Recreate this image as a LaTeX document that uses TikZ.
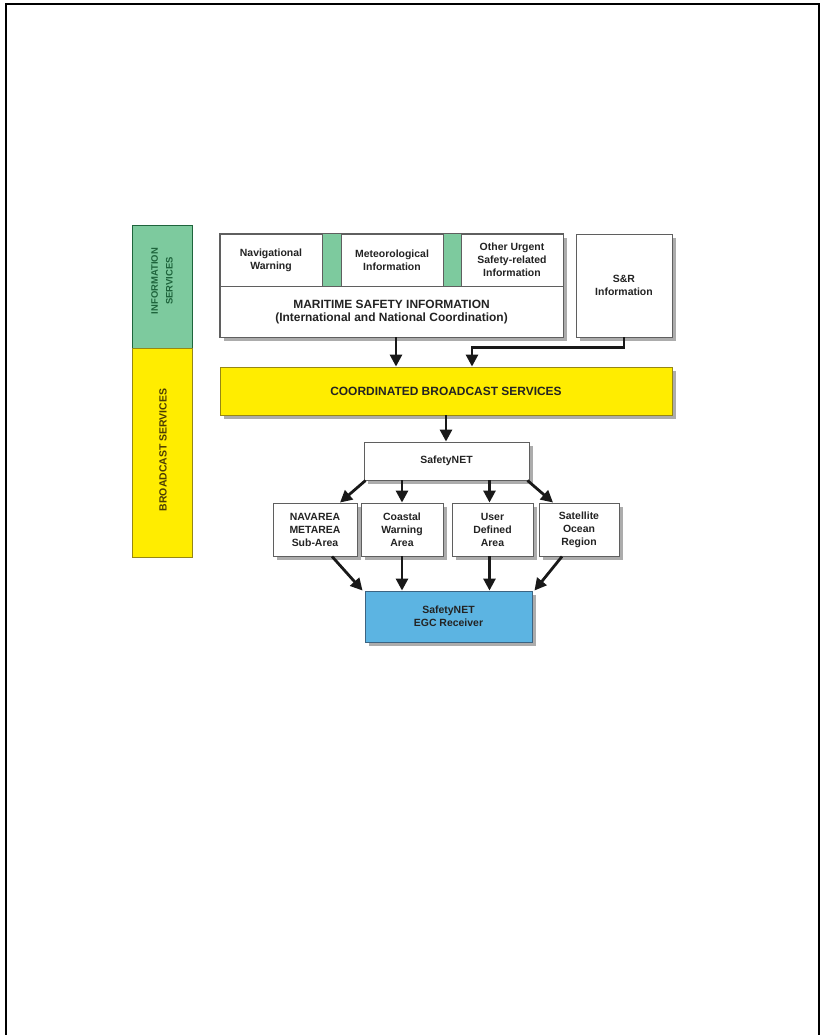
\documentclass[tikz,border=0pt]{standalone}
\usepackage{fontspec}
\setmainfont{Liberation Sans}
\usetikzlibrary{arrows.meta,shadows,calc}
\definecolor{infogreen}{RGB}{125,202,158}
\definecolor{infogreendk}{RGB}{30,100,60}
\definecolor{bcyellow}{RGB}{255,237,0}
\definecolor{bcyellowdk}{RGB}{150,135,20}
\definecolor{bctext}{RGB}{75,60,5}
\definecolor{egcblue}{RGB}{92,180,226}
\definecolor{egcbluedk}{RGB}{60,100,130}
\definecolor{boxline}{RGB}{95,95,95}
\definecolor{shadowgray}{RGB}{172,172,172}
\definecolor{txt}{RGB}{35,35,35}
\begin{document}
\begin{tikzpicture}[x=1bp,y=-1bp,
  shad/.style={drop shadow={shadow xshift=4bp, shadow yshift=-4bp, fill=shadowgray, opacity=1}},
  box/.style={shad, draw=boxline, line width=0.9bp, fill=white, inner sep=0pt, align=center,
    text=txt, font=\bfseries\fontsize{10.5}{13}\selectfont},
  lbl/.style={inner sep=0pt, align=center, text=txt, font=\bfseries\fontsize{10.5}{13}\selectfont},
  biglbl/.style={inner sep=0pt, align=center, text=txt, font=\bfseries\fontsize{12}{13}\selectfont},
  sidebox/.style={line width=0.9bp, inner sep=0pt, minimum width=60bp},
  arr/.style={line width=2.8bp, draw=black!90, -{Triangle[width=12bp,length=12bp]}}
]
\useasboundingbox (0,0) rectangle (822,1035);
% page frame
\draw[line width=2bp] (6,1035) -- (6,3.8) -- (819,3.8) -- (819,1035);

% side column
\node[sidebox, draw=infogreendk, fill=infogreen, minimum height=123bp] (info) at (162,286.5) {};
\node[sidebox, draw=bcyellowdk, fill=bcyellow, minimum height=209bp] (bcast) at (162,452.5) {};
\node[rotate=90, inner sep=0pt, align=center, text=infogreendk, font=\bfseries\fontsize{9.5}{15}\selectfont] (infolbl) at (162,281) {INFORMATION\\SERVICES};
\node[rotate=90, inner sep=0pt, align=center, text=bctext, font=\bfseries\fontsize{10.5}{13}\selectfont] (bcastlbl) at (163,450) {BROADCAST SERVICES};

% maritime safety information block
\node[box, minimum width=343bp, minimum height=103bp] (msi) at (391.5,285.5) {};
\fill[infogreen] (322,234) rectangle (341,286);
\fill[infogreen] (443,234) rectangle (461,286);
\draw[boxline, line width=0.9bp] (322,234) -- (322,286) (341,234) -- (341,286)
  (443,234) -- (443,286) (461,234) -- (461,286);
\draw[boxline, line width=0.9bp] (msi.west |- 0,286) -- (msi.east |- 0,286);
\draw[boxline, line width=0.9bp] (msi.north west) rectangle (msi.south east);
\node[lbl] (nav) at (271,260) {Navigational\\Warning};
\node[lbl] (met) at (392,260) {Meteorological\\Information};
\node[lbl] (oth) at (512,260) {Other Urgent\\Safety-related\\Information};
\node[biglbl] (msitxt) at (391.5,312.5) {MARITIME SAFETY INFORMATION\\(International and National Coordination)};

\node[box, minimum width=96bp, minimum height=103bp] (sar) at (624,285.5) {S\&R\\Information};

\node[box, fill=bcyellow, draw=bcyellowdk, minimum width=452bp, minimum height=48bp,
  font=\bfseries\fontsize{12}{13}\selectfont] (cbs) at (446,391) {COORDINATED BROADCAST SERVICES};

\node[box, minimum width=165bp, minimum height=38bp] (snet) at (446.5,461) {SafetyNET};

\node[box, minimum width=84bp, minimum height=53bp] (navarea) at (315,529.5) {NAVAREA\\METAREA\\Sub-Area};
\node[box, minimum width=82bp, minimum height=53bp] (coastal) at (402,529.5) {Coastal\\Warning\\Area};
\node[box, minimum width=81bp, minimum height=53bp] (user) at (492.5,529.5) {User\\Defined\\Area};
\node[box, minimum width=80bp, minimum height=53bp] (sat) at (579,529.5) {Satellite\\Ocean\\Region};

\node[box, fill=egcblue, draw=egcbluedk, minimum width=167bp, minimum height=51bp] (egc) at (448.5,616.5) {SafetyNET\\EGC Receiver};

% connectors
\draw[arr] ([xshift=4.5bp]msi.south) -- ([xshift=4.5bp]msi.south |- cbs.north);
\draw[arr] (sar.south) -- ++(0,10) -| ([xshift=26bp]cbs.north);
\draw[arr] (cbs.south) -- (cbs.south |- snet.north);
\draw[arr] ([xshift=2bp]snet.south west) -- ([xshift=25bp]navarea.north);
\draw[arr] (snet.south -| coastal.north) -- (coastal.north);
\draw[arr] ([xshift=-3bp]snet.south -| user.north) -- ([xshift=-3bp]user.north);
\draw[arr] ([xshift=-2bp]snet.south east) -- ([xshift=-26bp]sat.north);
\draw[arr] ([xshift=17bp]navarea.south) -- ([xshift=-2bp]egc.north west);
\draw[arr] (coastal.south) -- (coastal.south |- egc.north);
\draw[arr] ([xshift=-3bp]user.south) -- ([xshift=-3bp]user.south |- egc.north);
\draw[arr] ([xshift=-17bp]sat.south) -- ([xshift=2bp]egc.north east);
\end{tikzpicture}
\end{document}
